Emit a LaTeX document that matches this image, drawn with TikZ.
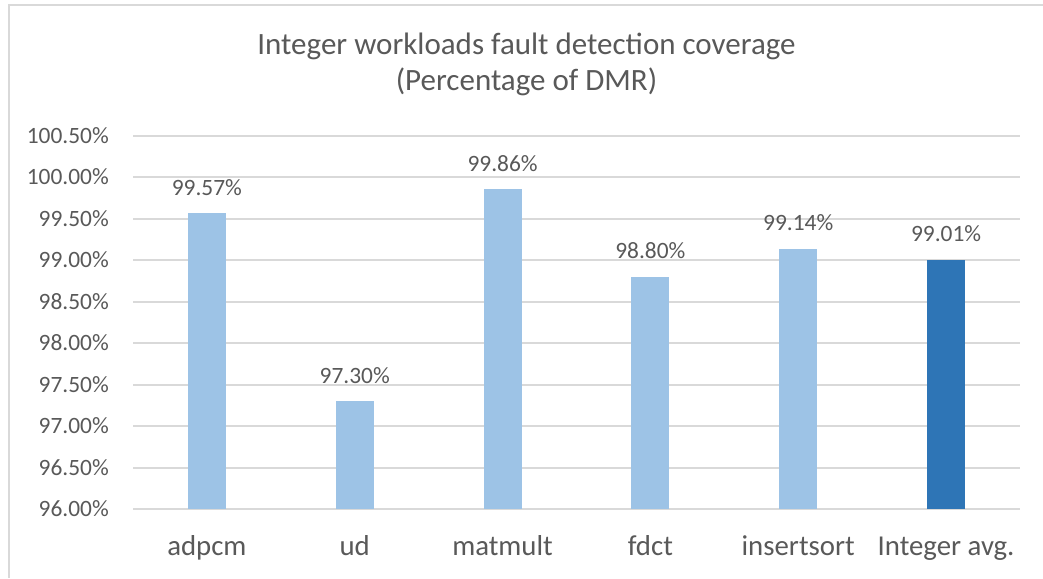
\documentclass[tikz,border=0pt]{standalone}
\usepackage{fontspec}
\setmainfont{Carlito}
\definecolor{txt}{HTML}{595959}
\definecolor{gridc}{HTML}{D9D9D9}
\definecolor{barlight}{HTML}{9DC3E6}
\definecolor{bardark}{HTML}{2E75B6}
\begin{document}
\begin{tikzpicture}[x=1pt,y=-1pt,
  gridline/.style={draw=gridc,line width=2pt},
  frameline/.style={draw=gridc,line width=1.5pt},
  titletext/.style={inner sep=0pt,anchor=base,text=txt,font=\fontsize{31}{36}\selectfont},
  ylab/.style={inner sep=0pt,anchor=base east,text=txt,font=\fontsize{23.4}{28}\selectfont},
  vallab/.style={inner sep=0pt,anchor=base,text=txt,font=\fontsize{23.4}{28}\selectfont},
  catlab/.style={inner sep=0pt,anchor=base,text=txt,font=\fontsize{28.8}{34}\selectfont},
  lightbar/.style={fill=barlight},
  darkbar/.style={fill=bardark}]
\useasboundingbox (0,0) rectangle (1043,578);
\fill[white] (0,0) rectangle (1043,578);
% chart frame (cropped at right and bottom)
\draw[frameline] (1043,5) -- (9,5) -- (9,578);
% title
\node[titletext] (title1) at (526.5,54.3) {Integer workloads fault detection coverage};
\node[titletext] (title2) at (526.5,90) {(Percentage of DMR)};
% gridlines and y labels
\foreach \v/\t [count=\i from 0] in {96/96.00\%,96.5/96.50\%,97/97.00\%,97.5/97.50\%,98/98.00\%,98.5/98.50\%,99/99.00\%,99.5/99.50\%,100/100.00\%,100.5/100.50\%}{
  \pgfmathsetmacro{\yy}{509-(\v-96)*82.88}
  \draw[gridline] (133,\yy) -- (1020,\yy);
  \node[ylab] (ylab\i) at (109,\yy+7.5) {\t};
}
% bars, value labels, category labels
\foreach \v/\lab/\cat/\sty [count=\i from 0] in {99.57/99.57\%/adpcm/lightbar,97.30/97.30\%/ud/lightbar,99.86/99.86\%/matmult/lightbar,98.80/98.80\%/fdct/lightbar,99.14/99.14\%/insertsort/lightbar,99.01/99.01\%/Integer avg./darkbar}{
  \pgfmathsetmacro{\xc}{206.9+\i*147.83}
  \pgfmathsetmacro{\yt}{509-(\v-96)*82.88}
  \path[\sty] (\xc-19,509) rectangle (\xc+19,\yt);
  \node[vallab] (val\i) at (\xc,\yt-18) {\lab};
  \node[catlab] (cat\i) at (\xc,555.5) {\cat};
}
\end{tikzpicture}
\end{document}
